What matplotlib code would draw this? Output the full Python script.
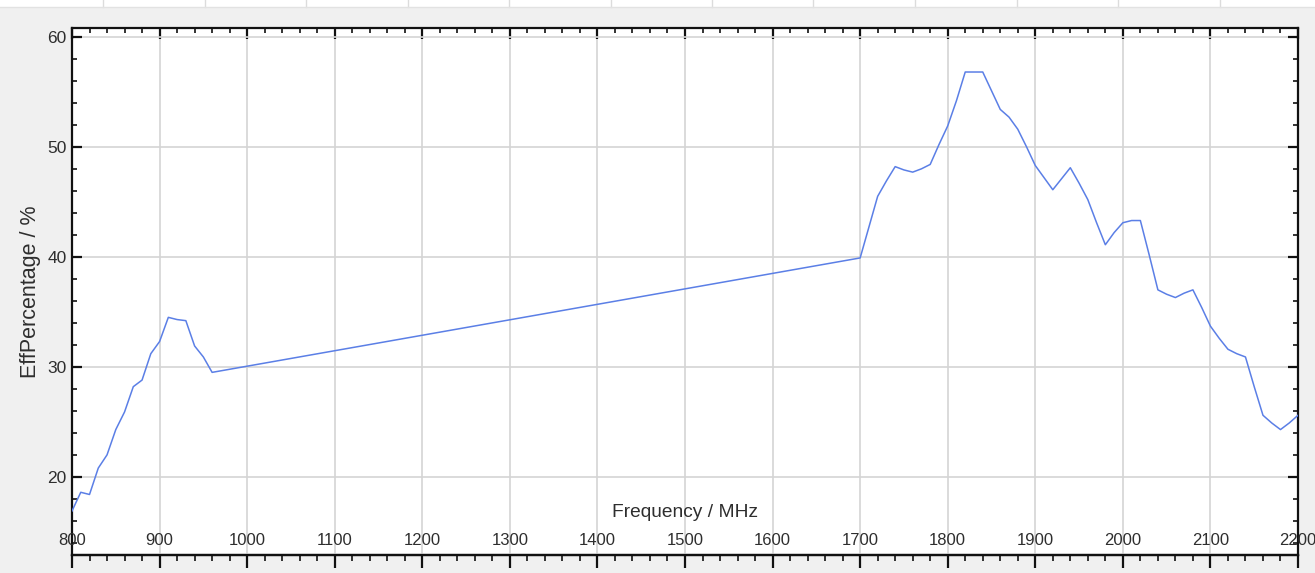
"""
plot.py - efficiency vs frequency sweep (low band + high band), instrument-style look.
"""
import matplotlib

matplotlib.use("Agg")
import matplotlib.pyplot as plt
import numpy as np
from matplotlib.patches import Rectangle
from matplotlib.transforms import blended_transform_factory
from matplotlib.ticker import MultipleLocator

plt.rcParams["font.family"] = ["Liberation Sans", "DejaVu Sans"]

# measured sweep, MHz -> efficiency %
FREQ_LOW = [800, 810, 820, 830, 840, 850, 860, 870, 880, 890, 900,
            910, 920, 930, 940, 950, 960]
EFF_LOW = [16.9, 18.6, 18.4, 20.8, 22.0, 24.3, 25.9, 28.2, 28.8, 31.2, 32.3,
           34.5, 34.3, 34.2, 31.9, 30.9, 29.5]

FREQ_HIGH = [1700, 1710, 1720, 1730, 1740, 1750, 1760, 1770, 1780, 1790, 1800,
             1810, 1820, 1830, 1840, 1850, 1860, 1870, 1880, 1890, 1900,
             1910, 1920, 1930, 1940, 1950, 1960, 1970, 1980, 1990, 2000,
             2010, 2020, 2030, 2040, 2050, 2060, 2070, 2080, 2090, 2100,
             2110, 2120, 2130, 2140, 2150, 2160, 2170, 2180, 2190, 2200]
EFF_HIGH = [39.9, 42.7, 45.5, 46.9, 48.2, 47.9, 47.7, 48.0, 48.4, 50.2, 51.9,
            54.2, 56.8, 56.8, 56.8, 55.1, 53.4, 52.7, 51.6, 50.0, 48.3,
            47.2, 46.1, 47.1, 48.1, 46.7, 45.2, 43.1, 41.1, 42.2, 43.1,
            43.3, 43.3, 40.2, 37.0, 36.6, 36.3, 36.7, 37.0, 35.4, 33.7,
            32.6, 31.6, 31.2, 30.9, 28.2, 25.6, 24.9, 24.3, 24.9, 25.6]

X_TICKS = [800, 900, 1000, 1100, 1200, 1300, 1400, 1500, 1600,
           1700, 1800, 1900, 2000, 2100, 2200]
Y_TICKS = [20, 30, 40, 50, 60]

BG = "#f0f0f0"
LINE_COLOR = "#5b7fe6"
TEXT_COLOR = "#2e2e2e"

fig = plt.figure(figsize=(13.15, 5.73), dpi=100, facecolor=BG)

# window strip at the very top of the screenshot
fig.add_artist(Rectangle((0, 1 - 7 / 573), 1, 7 / 573, transform=fig.transFigure,
                         facecolor="white", edgecolor="none"))
for xp in np.arange(103, 1315, 101.5):
    fig.add_artist(plt.Line2D([xp / 1315, xp / 1315], [1 - 7 / 573, 1],
                              transform=fig.transFigure, color="#dcdcdc", lw=1))
fig.add_artist(plt.Line2D([0, 1], [1 - 7 / 573, 1 - 7 / 573],
                          transform=fig.transFigure, color="#e2e2e2", lw=1))

ax = fig.add_axes([72 / 1315, 1 - 555 / 573, (1298 - 72) / 1315, (555 - 28) / 573])
ax.set_facecolor("white")

freq = FREQ_LOW + FREQ_HIGH
eff = EFF_LOW + EFF_HIGH
ax.plot(freq, eff, color=LINE_COLOR, linewidth=1.1, zorder=3)

ax.set_xlim(800, 2200)
ax.set_ylim(12.9, 60.8)
ax.set_xticks(X_TICKS)
ax.set_yticks(Y_TICKS)
ax.xaxis.set_minor_locator(MultipleLocator(20))
ax.yaxis.set_minor_locator(MultipleLocator(2))
ax.grid(True, which="major", color="#d4d4d4", linewidth=1.2, zorder=0)
ax.set_axisbelow(True)

for spine in ax.spines.values():
    spine.set_linewidth(1.6)
    spine.set_color("#111111")

# top ticks point in (main axis), bottom ticks point out (secondary axis)
ax.tick_params(axis="x", which="both", bottom=False, top=True, direction="in",
               labelbottom=False, labeltop=False, color="#111111")
ax.tick_params(axis="x", which="major", length=8, width=1.6)
ax.tick_params(axis="x", which="minor", length=3.5, width=1.2)
ax.tick_params(axis="y", which="both", left=True, right=True, direction="in",
               labelsize=12.5, labelcolor=TEXT_COLOR, color="#111111", pad=4)
ax.tick_params(axis="y", which="major", length=7.5, width=1.6)
ax.tick_params(axis="y", which="minor", length=3.5, width=1.2)

bottom = ax.secondary_xaxis("bottom")
bottom.set_xticks(X_TICKS)
bottom.xaxis.set_minor_locator(MultipleLocator(20))
bottom.tick_params(axis="x", which="both", direction="out", labelbottom=False,
                   color="#111111")
bottom.tick_params(axis="x", which="major", length=9, width=1.6)
bottom.tick_params(axis="x", which="minor", length=4.5, width=1.2)
bottom.spines["bottom"].set_linewidth(1.6)

# x tick labels sit inside the plot area, just above the bottom axis
trans = blended_transform_factory(ax.transData, ax.transAxes)
for xt in X_TICKS:
    ax.text(xt, 0.028, f"{xt}", transform=trans, ha="center", va="center",
            fontsize=12, color=TEXT_COLOR)

ax.set_xlabel("Frequency / MHz", fontsize=13.8, color=TEXT_COLOR)
ax.xaxis.set_label_coords(0.5, 0.08)
ax.xaxis.label.set_va("center")

ax.set_ylabel("EffPercentage / %", fontsize=15.5, color=TEXT_COLOR)
ax.yaxis.set_label_coords(-0.034, 0.5)
ax.yaxis.label.set_va("center")

fig.savefig("out.png", dpi=100, facecolor=BG)
